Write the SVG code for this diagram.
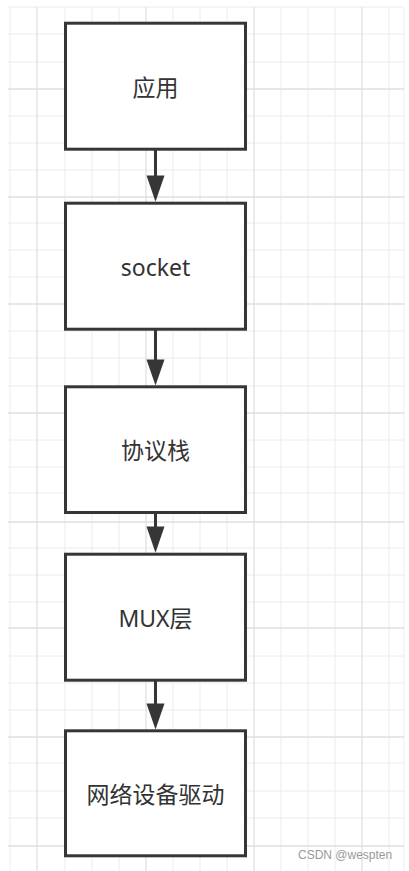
<svg xmlns="http://www.w3.org/2000/svg" width="409" height="871" viewBox="0 0 409 871">
<style>
.minor{stroke:#ececec;stroke-width:1;fill:none}
.major{stroke:#e0e0e0;stroke-width:1.3;fill:none}
.box{fill:#ffffff;stroke:#363636;stroke-width:3}
.lbl{font-family:"Noto Sans","Noto Sans CJK SC",sans-serif;font-size:23px;fill:#333333;text-anchor:middle}
.edge{stroke:#363636;stroke-width:3;fill:none}
.head{fill:#363636;stroke:none}
.wm{font-family:"Liberation Sans",Arial,sans-serif;font-size:12px;fill:#9a9a9a}
</style>
<rect width="409" height="871" fill="#ffffff"/>
<g id="grid">
<path class="minor" d="M10,7V871M65,7V871M92,7V871M119,7V871M173,7V871M200,7V871M227,7V871M281,7V871M308,7V871M335,7V871M389,7V871M404,7V871
M8,7H404M8,34H404M8,62H404M8,116H404M8,143H404M8,170H404M8,223H404M8,250H404M8,277H404M8,331H404M8,358H404M8,386H404M8,440H404M8,467H404M8,493H404M8,548H404M8,575H404M8,602H404M8,656H404M8,683H404M8,710H404M8,763H404M8,791H404M8,818H404"/>
<path class="major" d="M37,7V871M146,7V871M254,7V871M362,7V871M8,89H404M8,197H404M8,304H404M8,413H404M8,522H404M8,628H404M8,737H404M8,846H404"/>
</g>
<g id="connectors">
<line class="edge" x1="155.5" y1="150" x2="155.5" y2="178"/>
<path class="head" d="M146.5,175.5L164.5,175.5L155.5,201.7Z"/>
<line class="edge" x1="155.5" y1="330" x2="155.5" y2="362"/>
<path class="head" d="M146.5,359.5L164.5,359.5L155.5,385.5Z"/>
<line class="edge" x1="155.5" y1="513" x2="155.5" y2="529"/>
<path class="head" d="M146.5,526.5L164.5,526.5L155.5,552.7Z"/>
<line class="edge" x1="155.5" y1="681" x2="155.5" y2="706"/>
<path class="head" d="M146.5,703.5L164.5,703.5L155.5,729.5Z"/>
</g>
<g id="node-app">
<rect class="box" x="65.5" y="23.2" width="180" height="126"/>
<text class="lbl" x="155.5" y="96">应用</text>
</g>
<g id="node-socket">
<rect class="box" x="65.5" y="203.2" width="180" height="126"/>
<text class="lbl" x="155.5" y="276">socket</text>
</g>
<g id="node-stack">
<rect class="box" x="65.5" y="386.8" width="180" height="125.7"/>
<text class="lbl" x="155.5" y="459">协议栈</text>
</g>
<g id="node-mux">
<rect class="box" x="65.5" y="554.2" width="180" height="126"/>
<text class="lbl" x="155.5" y="627">MUX层</text>
</g>
<g id="node-driver">
<rect class="box" x="65.5" y="730.8" width="180" height="125"/>
<text class="lbl" x="155.5" y="803">网络设备驱动</text>
</g>
<text class="wm" x="298" y="859">CSDN @wespten</text>
</svg>
